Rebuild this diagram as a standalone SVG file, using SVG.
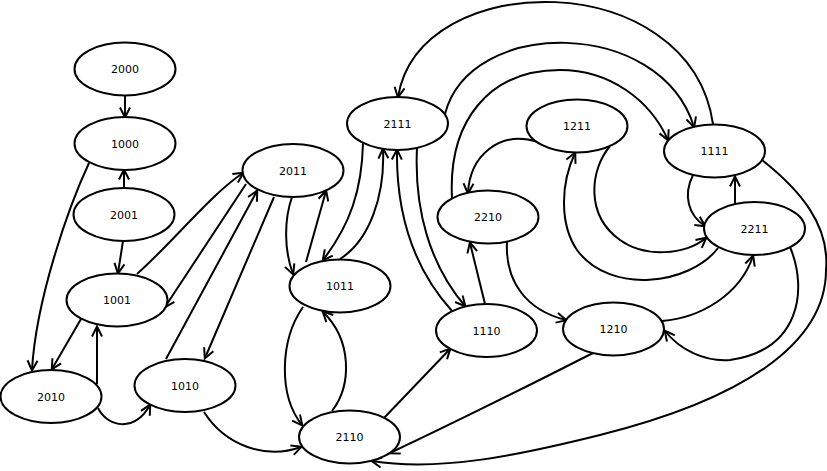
<svg xmlns="http://www.w3.org/2000/svg" width="827" height="471" viewBox="0 0 827 471">
<style>
.n ellipse{fill:#fff;stroke:#000;stroke-width:2}
.n text{font-family:"DejaVu Sans",sans-serif;font-size:11px;text-anchor:middle;fill:#000}
#edges path{fill:none;stroke:#000;stroke-width:2;marker-end:url(#a)}
</style>
<defs>
<marker id="a" markerUnits="userSpaceOnUse" markerWidth="14" markerHeight="14" viewBox="-2 -2 14 14" refX="9.5" refY="5" orient="auto" overflow="visible">
<path d="M0,0 L10,5 L0,10" fill="none" stroke="#000" stroke-width="2"/>
</marker>
</defs>
<rect width="827" height="471" fill="#fff"/>
<g id="edges">
<path d="M125,96 L125,117"/>
<path d="M124,188 L124,170"/>
<path d="M123,241 L118,273"/>
<path d="M89,163 C68,208 36,300 32,370"/>
<path d="M81,319 L52,369"/>
<path d="M97,384 L97,327"/>
<path d="M98,408 C108,428 135,432 150,405"/>
<path d="M204,412 C225,445 265,460 301,447"/>
<path d="M137,274 C175,240 210,195 243,173"/>
<path d="M246,184 L165,307"/>
<path d="M166,359 L257,191"/>
<path d="M274,197 L205,358"/>
<path d="M292,197 C284,220 284,250 293,274"/>
<path d="M306,262 L326,191"/>
<path d="M363,143 C362,190 350,225 323,260"/>
<path d="M340,259 C370,240 385,195 383,149"/>
<path d="M303,307 C280,340 278,395 302,425"/>
<path d="M332,411 C352,385 352,340 323,312"/>
<path d="M384,418 L450,349"/>
<path d="M452,311 C415,270 396,215 397,150"/>
<path d="M417,148 C414,210 430,265 465,306"/>
<path d="M713,124 C690,-34 420,-34 398,97"/>
<path d="M445,114 C470,17 660,17 694,127"/>
<path d="M452,198 C448,120 490,70 560,70 C610,70 650,100 668,140"/>
<path d="M538,142 C500,130 470,155 468,193"/>
<path d="M718,248 C690,285 610,295 577,250 C560,225 560,185 575,153"/>
<path d="M610,146 C590,170 585,215 620,240 C645,258 685,255 706,238"/>
<path d="M507,242 C505,280 525,310 566,320"/>
<path d="M485,304 L470,243"/>
<path d="M662,321 C700,318 740,295 753,256"/>
<path d="M790,247 C808,290 800,350 730,360 C705,362 680,350 665,331"/>
<path d="M693,175 C683,195 688,215 705,226"/>
<path d="M735,204 L735,177"/>
<path d="M762,160 C800,190 830,225 826,270 C826,345 740,400 600,435 C520,455 440,472 372,461"/>
<path d="M593,353 C530,385 460,420 390,453"/>
</g>
<g id="n2000" class="n"><ellipse cx="125" cy="69" rx="50.5" ry="26.5"/><text x="125" y="73">2000</text></g>
<g id="n1000" class="n"><ellipse cx="125" cy="143.5" rx="50.5" ry="26.5"/><text x="125" y="147.5">1000</text></g>
<g id="n2001" class="n"><ellipse cx="124" cy="214.5" rx="50.5" ry="26.5"/><text x="124" y="218.5">2001</text></g>
<g id="n1001" class="n"><ellipse cx="117" cy="300" rx="50.5" ry="26.5"/><text x="117" y="304">1001</text></g>
<g id="n2010" class="n"><ellipse cx="51" cy="396.5" rx="50.5" ry="26.5"/><text x="51" y="400.5">2010</text></g>
<g id="n1010" class="n"><ellipse cx="185" cy="385.5" rx="50.5" ry="26.5"/><text x="185" y="389.5">1010</text></g>
<g id="n2011" class="n"><ellipse cx="293" cy="170.5" rx="50.5" ry="26.5"/><text x="293" y="174.5">2011</text></g>
<g id="n1011" class="n"><ellipse cx="340" cy="286" rx="50.5" ry="26.5"/><text x="340" y="290">1011</text></g>
<g id="n2110" class="n"><ellipse cx="349.5" cy="437" rx="50.5" ry="26.5"/><text x="349.5" y="441">2110</text></g>
<g id="n2111" class="n"><ellipse cx="397.5" cy="123.5" rx="50.5" ry="26.5"/><text x="397.5" y="127.5">2111</text></g>
<g id="n1211" class="n"><ellipse cx="577" cy="126" rx="50.5" ry="26.5"/><text x="577" y="130">1211</text></g>
<g id="n2210" class="n"><ellipse cx="488" cy="217" rx="50.5" ry="26.5"/><text x="488" y="221">2210</text></g>
<g id="n1111" class="n"><ellipse cx="714.5" cy="151" rx="50.5" ry="26.5"/><text x="714.5" y="155">1111</text></g>
<g id="n2211" class="n"><ellipse cx="754.5" cy="228.5" rx="50.5" ry="26.5"/><text x="754.5" y="232.5">2211</text></g>
<g id="n1110" class="n"><ellipse cx="486.5" cy="330.5" rx="50.5" ry="26.5"/><text x="486.5" y="334.5">1110</text></g>
<g id="n1210" class="n"><ellipse cx="613.5" cy="329" rx="50.5" ry="26.5"/><text x="613.5" y="333">1210</text></g>
</svg>
